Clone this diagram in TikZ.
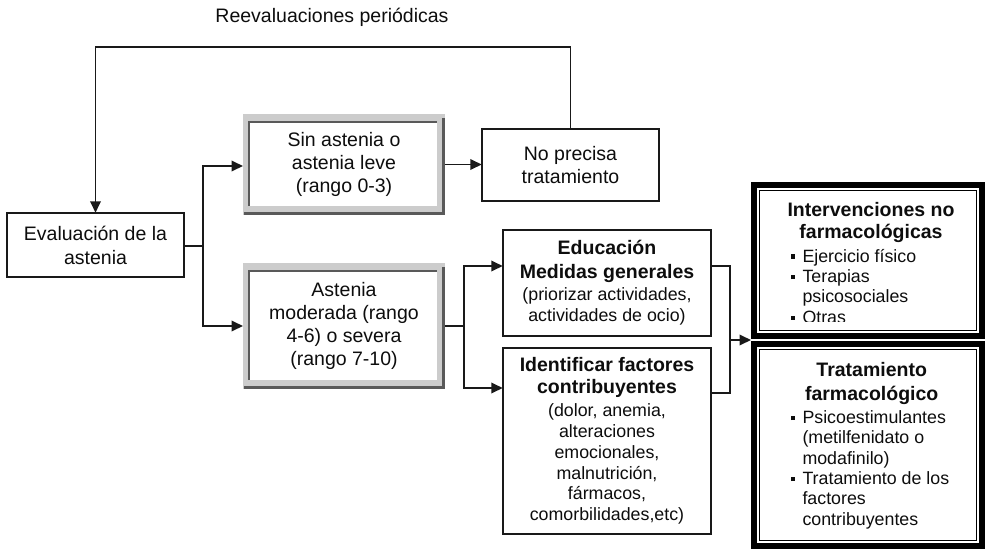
\documentclass[tikz,border=0pt]{standalone}
\usepackage{fontspec}
\setmainfont{Liberation Sans}
\usetikzlibrary{arrows.meta,backgrounds,calc}
\newcommand\smfont{\fontsize{17.8}{20.7}\selectfont}
\newcommand\bul{\rule[3.3pt]{4.3pt}{4.3pt}}
\tikzset{
  txt/.style={font=\fontsize{19.5}{23.4}\selectfont, text=black!95, align=center, inner sep=0pt, outer sep=0pt},
  plainbox/.style={txt, draw=black!90, line width=1.7pt, fill=white},
  framebox/.style={txt},
  heavybox/.style={inner sep=0pt, outer sep=0pt},
  conn/.style={line width=1.8pt, draw=black!90},
  arr/.style={conn, -{Triangle[length=11.5pt,width=10.5pt]}},
  listtxt/.style={font=\fontsize{17.8}{20.4}\selectfont, text=black!95, inner sep=0pt, outer sep=0pt, anchor=base west},
  headtxt/.style={font=\fontsize{19.5}{21.5}\selectfont\bfseries, text=black!95, align=center, inner sep=0pt}
}
\begin{document}
\begin{tikzpicture}[x=1pt,y=-1pt]
\useasboundingbox (0,0) rectangle (987,551);

% title
\node[txt] (title) at (332,17.5) {Reevaluaciones periódicas};

% boxes
\node[plainbox, minimum width=177.5pt, minimum height=64.5pt, font=\fontsize{19.5}{24}\selectfont] (eval) at (95.5,245) {Evaluación de la\\astenia};
\node[framebox, minimum width=202pt, minimum height=101pt] (sin) at (344,164.5) {Sin astenia o\\astenia leve\\(rango 0-3)};
\node[framebox, minimum width=202pt, minimum height=126pt, font=\fontsize{19.5}{23}\selectfont] (mod) at (344,326) {Astenia\\moderada (rango\\4-6) o severa\\(rango 7-10)};
\node[plainbox, minimum width=177.5pt, minimum height=72.5pt, font=\fontsize{19.5}{22.7}\selectfont] (nop) at (570.5,165) {No precisa\\tratamiento};
\node[plainbox, minimum width=208.5pt, minimum height=106.5pt] (edu) at (607,283)
  {\textbf{Educación}\\\textbf{Medidas generales}\\[-1.1pt]\smfont(priorizar actividades,\\[-2.4pt]\smfont actividades de ocio)};
\node[plainbox, minimum width=208.5pt, minimum height=186.5pt, font=\fontsize{19.5}{21.7}\selectfont] (ide) at (607,441)
  {\textbf{Identificar factores}\\\textbf{contribuyentes}\\[1.6pt]\smfont(dolor, anemia,\\[-1pt]\smfont alteraciones\\[-1pt]\smfont emocionales,\\[-1pt]\smfont malnutrición,\\[-1pt]\smfont fármacos,\\[-1pt]\smfont comorbilidades,etc)};
\node[heavybox, minimum width=234pt, minimum height=157pt] (inter) at (868,260.5) {};
\node[heavybox, minimum width=234pt, minimum height=208pt] (trat) at (868,445) {};

% texts of the heavy boxes
\node[headtxt] (interhead) at (871,222.3) {Intervenciones no\\farmacológicas};
\begin{scope}
  \clip (inter.north west) rectangle ([yshift=17.5pt]inter.south east);
  \node[listtxt] (interlist) at (791,262) {\begin{tabular}[t]{@{}l@{\hspace{7.2pt}}l@{}}
    \bul & Ejercicio físico\\
    \bul & Terapias\\
         & psicosociales\\
    \bul & Otras
  \end{tabular}};
\end{scope}
\node[headtxt, font=\fontsize{19.5}{23.3}\selectfont\bfseries] (trathead) at (871.7,383.5) {Tratamiento\\farmacológico};
\node[listtxt] (tratlist) at (791,423.3) {\begin{tabular}[t]{@{}l@{\hspace{7.2pt}}l@{}}
    \bul & Psicoestimulantes\\
         & (metilfenidato o\\
         & modafinilo)\\
    \bul & Tratamiento de los\\
         & factores\\
         & contribuyentes
  \end{tabular}};

% frames
\begin{pgfonlayer}{background}
\foreach \n in {sin,mod}{
  \fill[black!20] (\n.north west) rectangle (\n.south east);
  \fill[white] ([shift={(7pt,-9pt)}]\n.north west) rectangle ([shift={(-8pt,9pt)}]\n.south east);
  \draw[line width=2.5pt, black!65] ([shift={(5.8pt,9pt)}]\n.south west) -- ([shift={(5.8pt,-8pt)}]\n.north west) -- ([shift={(-8pt,-8pt)}]\n.north east);
  \draw[line width=2.6pt, black!65] ([shift={(1pt,1.5pt)}]\n.south west) -- ([shift={(-1.3pt,1.5pt)}]\n.south east) -- ([shift={(-1.3pt,-4pt)}]\n.north east);
}
\end{pgfonlayer}
\foreach \n in {inter,trat}{
  \draw[line width=6pt, black] ([shift={(3pt,-3pt)}]\n.north west) rectangle ([shift={(-3pt,3pt)}]\n.south east);
  \draw[line width=1.5pt, black] ([shift={(8.3pt,-8.3pt)}]\n.north west) rectangle ([shift={(-8.3pt,8.3pt)}]\n.south east);
}

% connectors
\coordinate (top) at (0,47);
\draw[arr] (nop.north) -- (nop.north |- top) -- (eval.north |- top) -- (eval.north);

\coordinate (b1) at (203,246);
\draw[conn] (eval.east |- b1) -- (b1);
\draw[arr] (b1) |- ([yshift=-1.5pt]sin.west);
\draw[arr] (b1) |- (mod.west);

\draw[arr] (sin.east) -- (sin.east -| nop.west);

\coordinate (b2) at (464,326);
\draw[conn] (mod.east) -- (b2);
\draw[arr] (b2) |- ([yshift=17pt]edu.west);
\draw[arr] (b2) |- ([yshift=53pt]ide.west);

\coordinate (m) at (730,340);
\draw[conn] ([yshift=17pt]edu.east) -| (m) |- ([yshift=48pt]ide.east);
\draw[arr] (m) -- (m -| inter.west);
\end{tikzpicture}
\end{document}
